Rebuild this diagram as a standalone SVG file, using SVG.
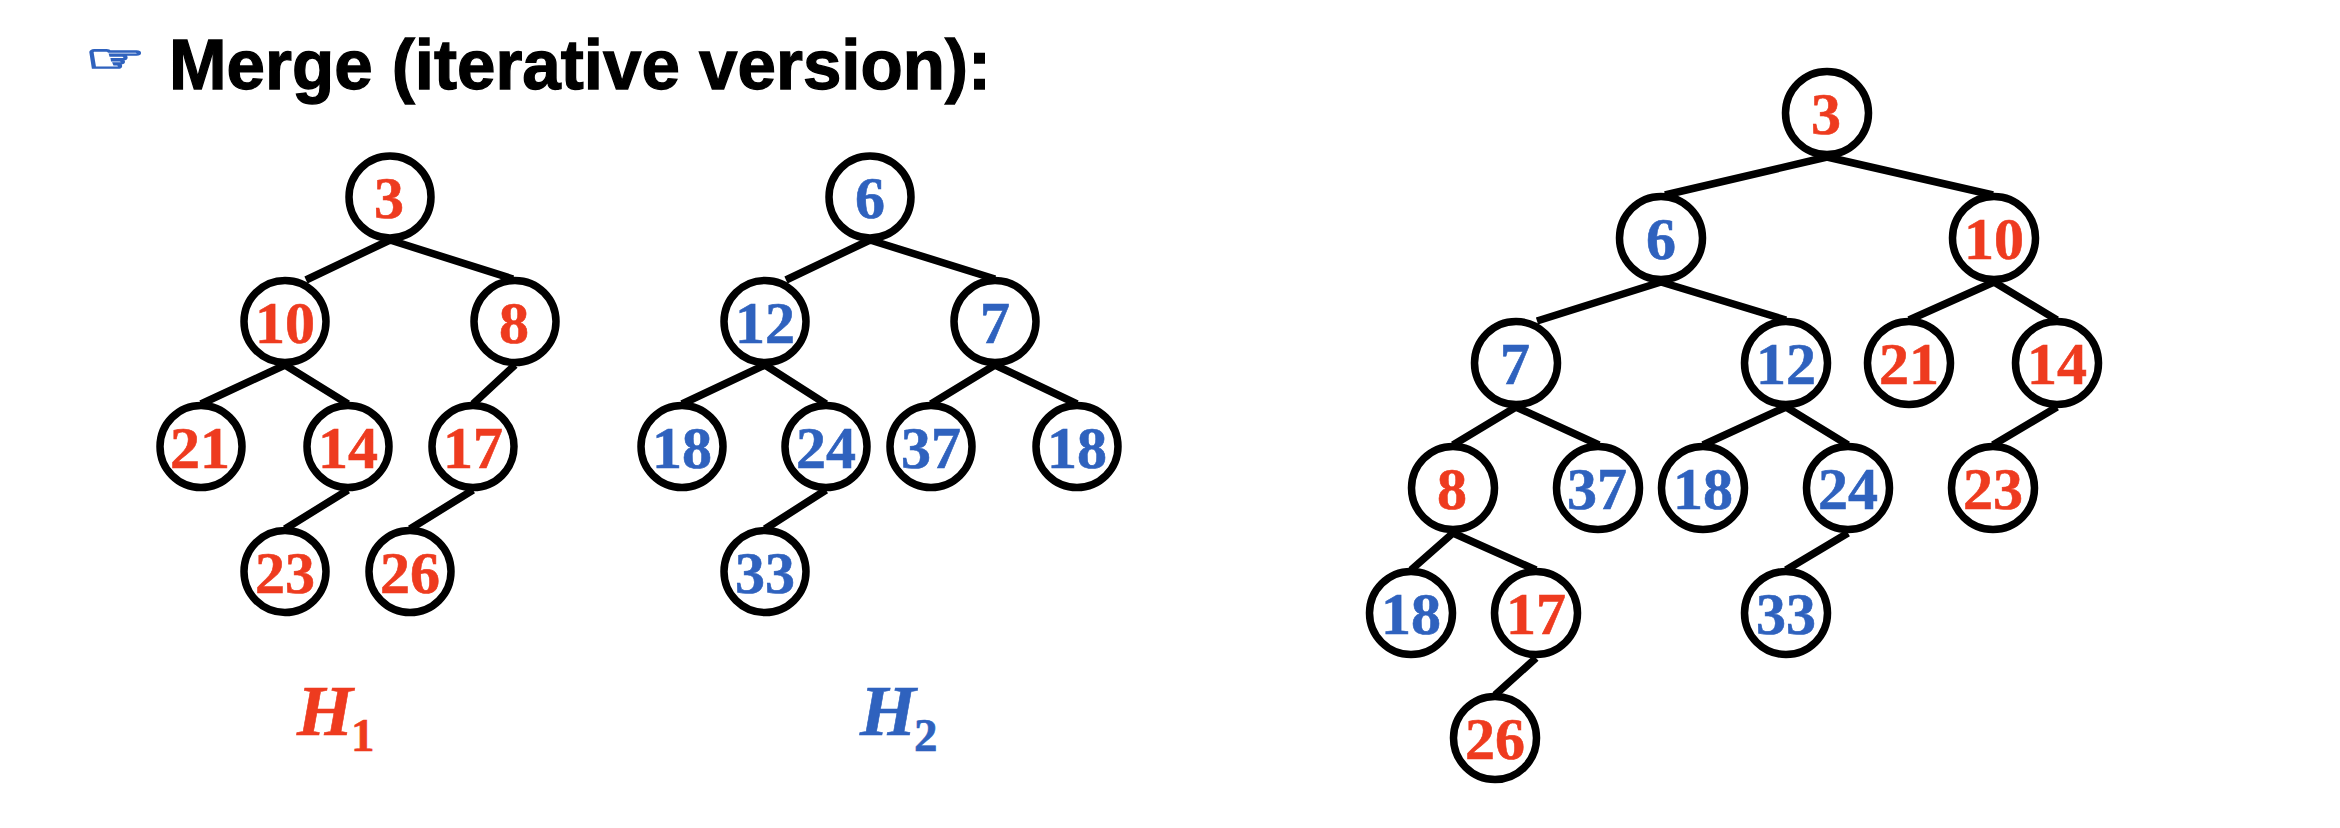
<svg xmlns="http://www.w3.org/2000/svg" width="2340" height="828" viewBox="0 0 2340 828">
<style>
.e{stroke:#000;stroke-width:7.500;fill:none}
circle{fill:#fff;fill-opacity:0;stroke:#000;stroke-width:7.500}
text{font-family:"Liberation Serif","Times New Roman",serif;font-weight:700;font-size:60px;text-anchor:middle}
.r{fill:#EE3B1F;stroke:#EE3B1F;stroke-width:.6}.b{fill:#2F62BE;stroke:#2F62BE;stroke-width:.6}
.t{font-family:"Liberation Sans",Arial,sans-serif;font-size:71px;fill:#000;stroke:#000;stroke-width:1.300;text-anchor:start}
.h{font-style:italic;font-size:72px;text-anchor:start}
.s{font-size:47px;font-style:normal}
.i{font-family:"DejaVu Sans",sans-serif;font-size:54px;font-weight:400;text-anchor:start;stroke:#2F62BE;stroke-width:2.400}
</style>
<rect width="2340" height="828" fill="#fff"/>
<text id="icon" class="i b" transform="translate(85,72) scale(1.24,0.72)" x="0" y="0">☞</text>
<text id="title" class="t" x="169" y="89" textLength="822" lengthAdjust="spacingAndGlyphs">Merge (iterative version):</text>
<g id="connectors">
<path class="e" d="M390 240L306 280M390 240L513 279M285 365L201 404M285 365L348 404M515 365L473 404M348 490L285 529M473 490L410 529"/>
<path class="e" d="M870 240L786 280M870 240L995 279M765 365L682 404M765 365L826 404M995 365L931 404M995 365L1077 404M826 490L765 529"/>
<path class="e" d="M1827 157L1665 195M1827 157L1993 195M1661 282L1537 321M1661 282L1786 320M1994 282L1909 320M1994 282L2057 320M1516 407L1453 445M1516 407L1599 445M1786 407L1703 445M1786 407L1848 445M2057 407L1993 445M1453 533L1411 570M1453 533L1536 570M1848 533L1786 570M1536 658L1495 695"/>
</g>
<g id="a3"><circle cx="390" cy="197" r="41"/><text class="r" x="389" y="218">3</text></g>
<g id="a10"><circle cx="285" cy="321.500" r="41"/><text class="r" x="285" y="342.500">10</text></g>
<g id="a8"><circle cx="515" cy="321.500" r="41"/><text class="r" x="514" y="342.500">8</text></g>
<g id="a21"><circle cx="201" cy="446.500" r="41"/><text class="r" x="200" y="467.500">21</text></g>
<g id="a14"><circle cx="348" cy="446.500" r="41"/><text class="r" x="348" y="467.500">14</text></g>
<g id="a17"><circle cx="473" cy="446.500" r="41"/><text class="r" x="473" y="467.500">17</text></g>
<g id="a23"><circle cx="285" cy="571.500" r="41"/><text class="r" x="285" y="592.500">23</text></g>
<g id="a26"><circle cx="410" cy="571.500" r="41"/><text class="r" x="410" y="592.500">26</text></g>
<g id="b6"><circle cx="870" cy="197" r="41"/><text class="b" x="870" y="218">6</text></g>
<g id="b12"><circle cx="765" cy="321.500" r="41"/><text class="b" x="765" y="342.500">12</text></g>
<g id="b7"><circle cx="995" cy="321.500" r="41"/><text class="b" x="995" y="342.500">7</text></g>
<g id="b18a"><circle cx="682" cy="446.500" r="41"/><text class="b" x="682" y="467.500">18</text></g>
<g id="b24"><circle cx="826" cy="446.500" r="41"/><text class="b" x="826" y="467.500">24</text></g>
<g id="b37"><circle cx="931" cy="446.500" r="41"/><text class="b" x="931" y="467.500">37</text></g>
<g id="b18b"><circle cx="1077" cy="446.500" r="41"/><text class="b" x="1077" y="467.500">18</text></g>
<g id="b33"><circle cx="765" cy="571.500" r="41"/><text class="b" x="765" y="592.500">33</text></g>
<g id="c3"><circle cx="1827" cy="113" r="41.500"/><text class="r" x="1826" y="134">3</text></g>
<g id="c6"><circle cx="1661" cy="238" r="41.500"/><text class="b" x="1661" y="259">6</text></g>
<g id="c10"><circle cx="1994" cy="238" r="41.500"/><text class="r" x="1994" y="259">10</text></g>
<g id="c7"><circle cx="1516" cy="363" r="41.500"/><text class="b" x="1515" y="384">7</text></g>
<g id="c12"><circle cx="1786" cy="363" r="41.500"/><text class="b" x="1786" y="384">12</text></g>
<g id="c21"><circle cx="1909" cy="363" r="41.500"/><text class="r" x="1909" y="384">21</text></g>
<g id="c14"><circle cx="2057" cy="363" r="41.500"/><text class="r" x="2057" y="384">14</text></g>
<g id="c8"><circle cx="1453" cy="488" r="41.500"/><text class="r" x="1452" y="509">8</text></g>
<g id="c37"><circle cx="1598" cy="488" r="41.500"/><text class="b" x="1597" y="509">37</text></g>
<g id="c18a"><circle cx="1703" cy="488" r="41.500"/><text class="b" x="1703" y="509">18</text></g>
<g id="c24"><circle cx="1848" cy="488" r="41.500"/><text class="b" x="1848" y="509">24</text></g>
<g id="c23"><circle cx="1993" cy="488" r="41.500"/><text class="r" x="1993" y="509">23</text></g>
<g id="c18b"><circle cx="1411" cy="613" r="41.500"/><text class="b" x="1411" y="634">18</text></g>
<g id="c17"><circle cx="1536" cy="613" r="41.500"/><text class="r" x="1536" y="634">17</text></g>
<g id="c33"><circle cx="1786" cy="613" r="41.500"/><text class="b" x="1786" y="634">33</text></g>
<g id="c26"><circle cx="1495" cy="738" r="41.500"/><text class="r" x="1495" y="759">26</text></g>
<text id="h1" class="h r" x="297" y="735">H<tspan class="s" x="351" y="751">1</tspan></text>
<text id="h2" class="h b" x="860" y="735">H<tspan class="s" x="914" y="751">2</tspan></text>
</svg>
